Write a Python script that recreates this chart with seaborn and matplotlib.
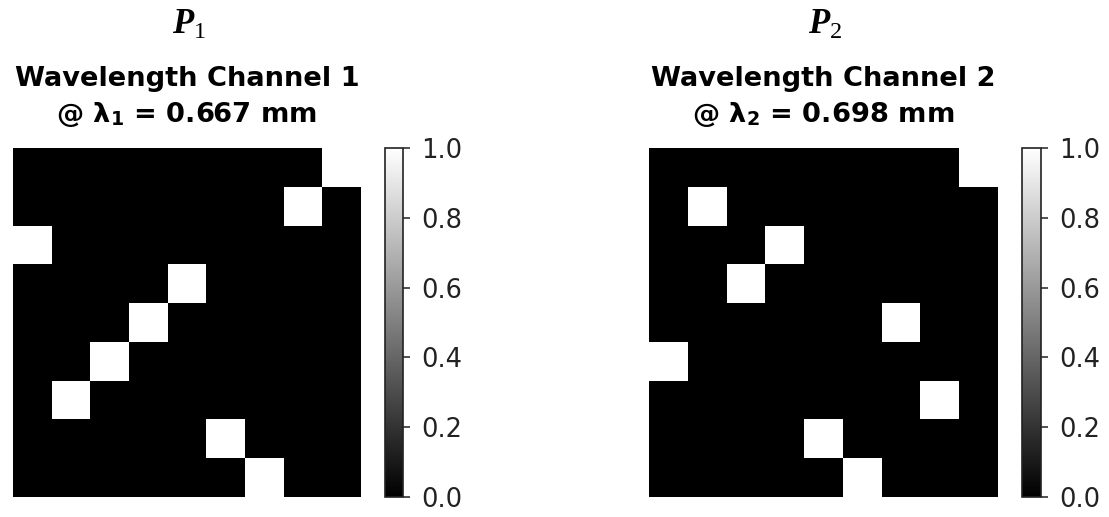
import matplotlib
matplotlib.use("Agg")
import matplotlib.pyplot as plt
import numpy as np
import seaborn as sns

# Binary 9x9 permutation patterns for the two wavelength channels
p1_pattern = [
    [0, 0, 0, 0, 0, 0, 0, 0, 1],
    [0, 0, 0, 0, 0, 0, 0, 1, 0],
    [1, 0, 0, 0, 0, 0, 0, 0, 0],
    [0, 0, 0, 0, 1, 0, 0, 0, 0],
    [0, 0, 0, 1, 0, 0, 0, 0, 0],
    [0, 0, 1, 0, 0, 0, 0, 0, 0],
    [0, 1, 0, 0, 0, 0, 0, 0, 0],
    [0, 0, 0, 0, 0, 1, 0, 0, 0],
    [0, 0, 0, 0, 0, 0, 1, 0, 0],
]
p2_pattern = [
    [0, 0, 0, 0, 0, 0, 0, 0, 1],
    [0, 1, 0, 0, 0, 0, 0, 0, 0],
    [0, 0, 0, 1, 0, 0, 0, 0, 0],
    [0, 0, 1, 0, 0, 0, 0, 0, 0],
    [0, 0, 0, 0, 0, 0, 1, 0, 0],
    [1, 0, 0, 0, 0, 0, 0, 0, 0],
    [0, 0, 0, 0, 0, 0, 0, 1, 0],
    [0, 0, 0, 0, 1, 0, 0, 0, 0],
    [0, 0, 0, 0, 0, 1, 0, 0, 0],
]

matrix_labels = [r"$P_1$", r"$P_2$"]
channel_titles = ["Wavelength Channel 1", "Wavelength Channel 2"]
channel_subtitles = [r"@ λ$_{\mathsf{1}}$ = 0.667 mm", r"@ λ$_{\mathsf{2}}$ = 0.698 mm"]
cbar_ticks = [0.0, 0.2, 0.4, 0.6, 0.8, 1.0]

plt.rcParams["mathtext.fontset"] = "custom"
plt.rcParams["mathtext.it"] = "Liberation Serif:bold:italic"
plt.rcParams["mathtext.rm"] = "Liberation Serif"
plt.rcParams["mathtext.bf"] = "Liberation Serif:bold"
plt.rcParams["mathtext.sf"] = "DejaVu Sans:bold"

W, H = 1109, 517
fig = plt.figure(figsize=(W / 100, H / 100), dpi=100)


def frac_box(x0, y0, x1, y1):
    """Pixel box (top-left origin) -> figure fraction rect."""
    return [x0 / W, 1 - y1 / H, (x1 - x0) / W, (y1 - y0) / H]


panels = [
    dict(data=p1_pattern, ax=(13, 148, 361, 497), cax=(385, 148, 403, 497)),
    dict(data=p2_pattern, ax=(649, 148, 998, 497), cax=(1022, 148, 1041, 497)),
]

title_font = dict(fontsize=19.6, fontweight="bold", family="DejaVu Sans",
                  ha="center", va="baseline")

for i, panel in enumerate(panels):
    ax = fig.add_axes(frac_box(*panel["ax"]))
    cax = fig.add_axes(frac_box(*panel["cax"]))
    sns.heatmap(
        np.array(panel["data"], dtype=float),
        ax=ax,
        cbar_ax=cax,
        cmap="gray",
        vmin=0,
        vmax=1,
        xticklabels=False,
        yticklabels=False,
        cbar_kws={"ticks": cbar_ticks},
    )
    ax.tick_params(left=False, bottom=False)

    cbar = ax.collections[0].colorbar
    cbar.outline.set_visible(True)
    cbar.outline.set_linewidth(1.2)
    cbar.outline.set_edgecolor("#222222")
    cbar.set_ticklabels([f"{t:.1f}" for t in cbar_ticks])
    cax.tick_params(labelsize=18.5, length=5, width=1.1, pad=8, colors="#222222")

    x0, _, x1, _ = panel["ax"]
    cx = (x0 + x1) / 2 / W
    fig.text(cx + 2 / W, 1 - 34 / H, matrix_labels[i], fontsize=25,
             ha="center", va="baseline")
    fig.text(cx, 1 - 86 / H, channel_titles[i], **title_font)
    fig.text(cx, 1 - 122 / H, channel_subtitles[i], **title_font)

fig.savefig("out.png", dpi=100, facecolor="white")
